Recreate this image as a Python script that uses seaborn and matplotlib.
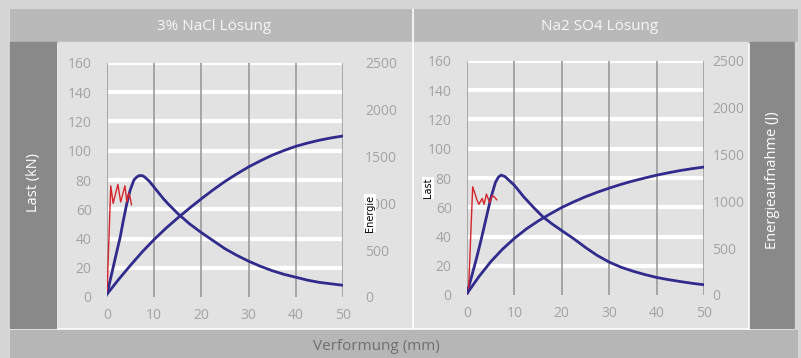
import numpy as np
import matplotlib
matplotlib.use("Agg")
import matplotlib.pyplot as plt
from matplotlib.patches import Rectangle
import seaborn as sns

# values
x_ticks = [0, 10, 20, 30, 40, 50]
last_ticks = [0, 20, 40, 60, 80, 100, 120, 140, 160]
energie_ticks = [0, 500, 1000, 1500, 2000, 2500]

# 3% NaCl
nacl_x = [0, 1, 2, 2.8, 3.5, 4.2, 4.9, 5.7, 6.3, 6.8, 7.5, 8, 9, 10, 11, 12, 13, 15,
          17.5, 20, 22.5, 25, 27.5, 30, 32.5, 35, 37.5, 40, 42.5, 45, 47.5, 50]
nacl_last = [2, 16, 30, 41, 53, 64, 73, 80, 82, 83, 83, 82, 79, 75, 71, 67, 63.5, 57,
             50, 44, 38.5, 33, 28.5, 24.5, 21, 18, 15.5, 13.5, 11.5, 10, 9, 8]
nacl_e_x = [0, 2.5, 5, 7.5, 10, 12.5, 15, 17.5, 20, 22.5, 25, 27.5, 30, 32.5, 35,
            37.5, 40, 42.5, 45, 47.5, 50]
nacl_energie = [31, 190, 340, 484, 615, 735, 845, 950, 1050, 1145, 1235, 1315, 1390,
                1455, 1515, 1565, 1610, 1645, 1675, 1700, 1720]
nacl_red_x = [0, 0.8, 1.3, 2.3, 2.9, 3.8, 4.2, 4.6, 4.9, 5.2]
nacl_red_y = [2, 76, 64, 77, 65, 76, 65, 71, 68, 63]

# Na2 SO4
so4_x = [0, 1, 2, 3, 4, 5, 6, 6.6, 7.2, 8, 9, 10, 11, 12, 14, 16, 18, 20, 22.5, 25,
         27.5, 30, 32.5, 35, 37.5, 40, 42.5, 45, 47.5, 50]
so4_last = [1, 13, 25, 38, 52, 66, 77, 80.5, 82, 81, 78, 75, 71, 67, 60, 53.5, 48.5, 44,
            38.5, 32.5, 27, 22.5, 19, 16.3, 14, 12, 10.5, 9.2, 8, 7]
so4_e_x = [0, 2.5, 5, 7.5, 10, 12.5, 15, 17.5, 20, 22.5, 25, 27.5, 30, 32.5, 35,
           37.5, 40, 42.5, 45, 47.5, 50]
so4_energie = [16, 195, 355, 490, 605, 705, 790, 865, 935, 995, 1050, 1098, 1142,
               1182, 1218, 1250, 1280, 1306, 1330, 1350, 1367]
so4_red_x = [0.3, 1.2, 2.1, 2.5, 3.2, 3.6, 4.1, 4.8, 5.3, 5.8, 6.3]
so4_red_y = [1, 74, 65, 62, 66, 62, 69, 63, 68, 67, 65]

sns.set_style("white")
plt.rcParams['font.family'] = ['Open Sans', 'DejaVu Sans']

W, H = 801, 358
fig = plt.figure(figsize=(W / 100, H / 100), dpi=100)
fig.patch.set_facecolor('#d6d6d6')

def rect(x0, y0, x1, y1, color):
    fig.patches.append(Rectangle((x0 / W, 1 - y1 / H), (x1 - x0) / W, (y1 - y0) / H,
                                 transform=fig.transFigure, color=color, zorder=-5))

def ftext(x, y, s, **kw):
    fig.text(x / W, 1 - y / H, s, ha='center', va='center', **kw)

# frame of bands
rect(10, 9, 797, 358, 'white')
rect(10, 9, 411, 42, '#b9b9b9')
rect(414, 9, 797, 42, '#b9b9b9')
rect(10, 42, 56, 328, '#898989')
rect(58, 42, 411, 327, '#e2e2e2')
rect(414, 42, 747, 327, '#e2e2e2')
rect(750, 42, 795, 328, '#898989')
rect(795, 42, 797, 330, '#d6d6d6')
rect(10, 330, 797, 358, '#b6b6b6')

ftext(214, 26, '3% NaCl Lösung', color='#f7f7f7', fontsize=11)
ftext(600, 26, 'Na2 SO4 Lösung', color='#f7f7f7', fontsize=11)
ftext(33, 182, 'Last (kN)', color='white', fontsize=10.5, rotation=90)
ftext(773, 180, 'Energieaufnahme (J)', color='white', fontsize=10.5, rotation=90)
ftext(376, 346, 'Verformung (mm)', color='#6f6f6f', fontsize=11)

blue = '#302b8c'
red = '#d6242b'
tick_col = '#a3a3a3'

def panel(box, lx, ly, ex, ey, rx, ry, rpad):
    x0, y0, x1, y1 = box
    ax = fig.add_axes([x0 / W, 1 - y1 / H, (x1 - x0) / W, (y1 - y0) / H])
    ax.patch.set_alpha(0)
    ax.set_xlim(0, 50)
    ax.set_ylim(0, 160)
    for v in last_ticks[1:]:
        ax.axhline(v, color='white', lw=3, zorder=0)
    for v in x_ticks:
        ax.axvline(v, color='#9b9b9b', lw=1.2, zorder=0)
    sns.lineplot(x=lx, y=ly, ax=ax, color=blue, lw=2, zorder=3,
                 solid_joinstyle='round', solid_capstyle='round')
    sns.lineplot(x=rx, y=ry, ax=ax, color=red, lw=1, zorder=4)
    ax.set_xticks(x_ticks)
    ax.set_yticks(last_ticks)
    ax.tick_params(length=0, colors=tick_col, labelsize=10)
    ax.tick_params(axis='y', pad=11)
    ax.tick_params(axis='x', pad=8)
    ax.set_xlabel('')
    ax.set_ylabel('')
    for s in ax.spines.values():
        s.set_visible(False)

    ax2 = ax.twinx()
    ax2.set_ylim(0, 2500)
    sns.lineplot(x=ex, y=ey, ax=ax2, color=blue, lw=2,
                 solid_joinstyle='round', solid_capstyle='round')
    ax2.set_yticks(energie_ticks)
    ax2.tick_params(length=0, colors=tick_col, labelsize=10, pad=rpad)
    ax2.set_ylabel('')
    for s in ax2.spines.values():
        s.set_visible(False)
    return ax

panel((107, 63, 343, 297), nacl_x, nacl_last, nacl_e_x, nacl_energie,
      nacl_red_x, nacl_red_y, 16)
panel((467, 61, 704, 295), so4_x, so4_last, so4_e_x, so4_energie,
      so4_red_x, so4_red_y, 6)

# small leftover labels
ftext(370, 213, 'Energie', color='black', fontsize=7, rotation=90,
      family=['DejaVu Sans'], bbox=dict(facecolor='white', edgecolor='none', pad=0.5))
ftext(428, 188, 'Last', color='black', fontsize=7, rotation=90,
      family=['DejaVu Sans'], bbox=dict(facecolor='white', edgecolor='none', pad=0.5))

fig.savefig('out.png', dpi=100, facecolor=fig.get_facecolor())
